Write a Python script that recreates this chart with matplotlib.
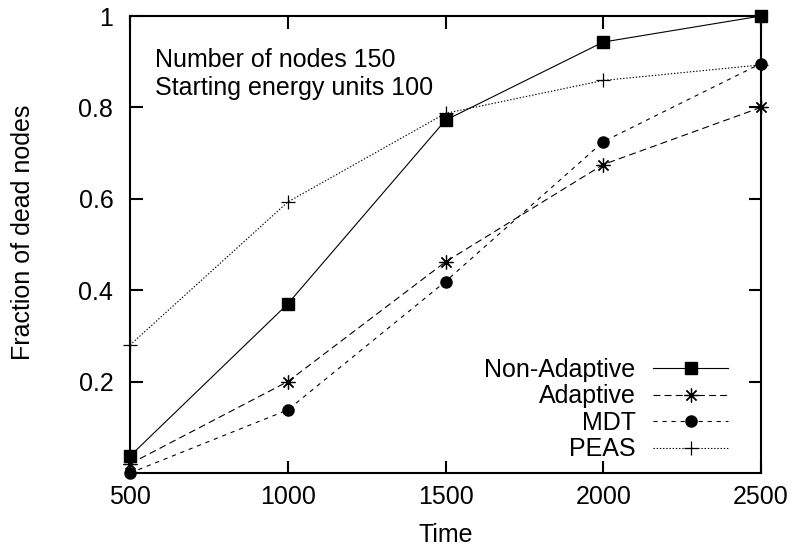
import numpy as np
import matplotlib.pyplot as plt

plt.rcParams['font.family'] = ['Liberation Sans', 'DejaVu Sans']
plt.rcParams['lines.scale_dashes'] = False

# data
times = [500, 1000, 1500, 2000, 2500]
non_adaptive = [0.037, 0.37, 0.772, 0.943, 1.0]
adaptive = [0.02, 0.2, 0.462, 0.675, 0.80]
mdt = [0.0, 0.138, 0.419, 0.725, 0.896]
peas = [0.28, 0.593, 0.787, 0.859, 0.893]

xticks = [500, 1000, 1500, 2000, 2500]
yticks = [0.2, 0.4, 0.6, 0.8, 1.0]
ytick_labels = ['0.2', '0.4', '0.6', '0.8', '1']

fig = plt.figure(figsize=(7.96, 5.55), dpi=100)
ax = fig.add_axes([130 / 796, 1 - 473 / 555, 631 / 796, 457 / 555])

lw = 0.8
common = dict(color='black', lw=lw, clip_on=False, zorder=3)
ax.plot(times, non_adaptive, linestyle='-', marker='s', ms=8,
        label='Non-Adaptive', **common)
ax.plot(times, adaptive, linestyle=(0, (5, 3)), marker=(8, 2, 0), ms=10,
        mew=0.9, label='Adaptive', **common)
ax.plot(times, mdt, linestyle=(0, (3, 3.5)), marker='o', ms=8,
        label='MDT', **common)
ax.plot(times, peas, linestyle=(0, (1, 1.3)), marker='+', ms=10, mew=0.9,
        label='PEAS', **common)

ax.set_xlim(500, 2500)
ax.set_ylim(0, 1)
ax.set_xticks(xticks)
ax.set_yticks(yticks)
ax.set_yticklabels(ytick_labels)
ax.tick_params(direction='in', length=9, width=1.5, labelsize=18,
               top=True, right=True)
ax.tick_params(axis='x', pad=9)
ax.tick_params(axis='y', pad=12)
for s in ax.spines.values():
    s.set_linewidth(1.5)
    s.set_zorder(2)

ax.set_xlabel('Time', fontsize=18, va='center')
ax.xaxis.set_label_coords(446 / 796, 1 - 535 / 555, transform=fig.transFigure)
ax.set_ylabel('Fraction of dead nodes', fontsize=18, va='center')
ax.yaxis.set_label_coords(23 / 796, 1 - 232 / 555, transform=fig.transFigure)

ax.text(155 / 796, 1 - 60 / 555, 'Number of nodes 150', fontsize=18,
        va='center', ha='left', transform=fig.transFigure)
ax.text(155 / 796, 1 - 88 / 555, 'Starting energy units 100', fontsize=18,
        va='center', ha='left', transform=fig.transFigure)

leg = ax.legend(loc='upper right', bbox_to_anchor=(728 / 796, 1 - 358 / 555),
                bbox_transform=fig.transFigure, frameon=False, fontsize=18,
                markerfirst=False, handlelength=3.0, handletextpad=0.7,
                labelspacing=0.1, borderpad=0, borderaxespad=0)

fig.savefig('out.png', dpi=100)
